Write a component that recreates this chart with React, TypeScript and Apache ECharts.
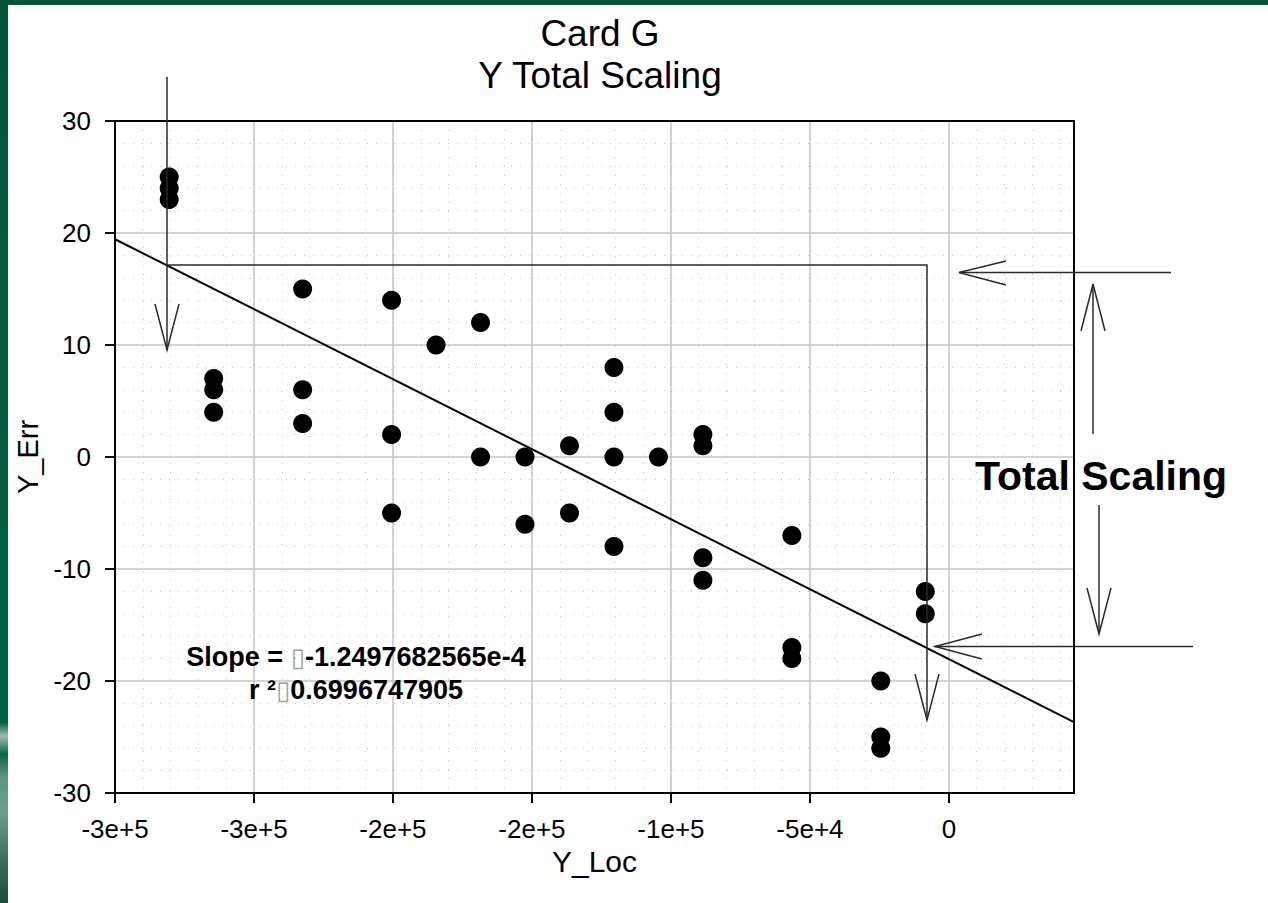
import React, { useEffect, useRef } from "react";
import * as echarts from "echarts";

// ---- data ----
const xLoc = [
  -280500, -280500, -280500,
  -264500, -264500, -264500,
  -232500, -232500, -232500,
  -200500, -200500, -200500,
  -184500,
  -168500, -168500,
  -152500, -152500,
  -136500, -136500,
  -120500, -120500, -120500, -120500,
  -104500,
  -88500, -88500, -88500, -88500,
  -56500, -56500, -56500,
  -24500, -24500, -24500,
  -8500, -8500,
];
const yErr = [
  25, 24, 23,
  7, 6, 4,
  15, 6, 3,
  14, 2, -5,
  10,
  12, 0,
  0, -6,
  1, -5,
  8, 4, 0, -8,
  0,
  2, 1, -9, -11,
  -7, -17, -18,
  -20, -25, -26,
  -12, -14,
];

const xTickValues = [-300000, -250000, -200000, -150000, -100000, -50000, 0];
const xTickLabels = ["-3e+5", "-3e+5", "-2e+5", "-2e+5", "-1e+5", "-5e+4", "0"];
const yTickValues = [-30, -20, -10, 0, 10, 20, 30];

const X_MIN = -300000;
const X_MAX = 45000;
const Y_MIN = -30;
const Y_MAX = 30;

const regSlope = -1.2497682565e-4;
const regIntercept = -18.05;
const slopeText = "-1.2497682565e-4";
const r2Text = "0.6996747905";

const FONT = '"Liberation Sans", Arial, sans-serif';
const ANN = "#2a2a2a";

export default function App() {
  const ref = useRef<HTMLDivElement>(null);

  useEffect(() => {
    document.body.style.margin = "0";
    document.body.style.overflow = "hidden";
    const chart = echarts.init(ref.current!, null, { renderer: "svg" });

    const points = xLoc.map((x, i) => [x, yErr[i]]);
    const regLine = [
      [X_MIN, regIntercept + regSlope * X_MIN],
      [X_MAX, regIntercept + regSlope * X_MAX],
    ];

    const lineStyle = { stroke: ANN, lineWidth: 1.5 };
    const seg = (x1: number, y1: number, x2: number, y2: number) => ({
      type: "line",
      shape: { x1, y1, x2, y2 },
      style: lineStyle,
      silent: true,
      z: 20,
    });
    const head = (pts: number[][]) => ({
      type: "polyline",
      shape: { points: pts },
      style: { ...lineStyle, fill: "none" },
      silent: true,
      z: 20,
    });
    const rich = {
      a: { font: `bold 27px ${FONT}`, fill: "#000" },
      b: { font: `26px "DejaVu Sans", sans-serif`, fill: "#a0a0a0" },
    };

    const option: any = {
      animation: false,
      backgroundColor: "#ffffff",
      textStyle: { fontFamily: FONT },
      title: {
        text: "Card G\nY Total Scaling",
        left: 595,
        top: 7,
        textAlign: "center",
        textStyle: {
          fontFamily: FONT,
          fontSize: 37,
          fontWeight: "normal",
          color: "#000",
          lineHeight: 42,
        },
      },
      grid: {
        left: 115,
        top: 121,
        width: 959,
        height: 672,
        show: true,
        borderColor: "#000",
        borderWidth: 0,
        backgroundColor: "#fff",
      },
      xAxis: [
        {
          type: "value",
          min: X_MIN,
          max: X_MAX,
          interval: 50000,
          position: "bottom",
          name: "Y_Loc",
          nameLocation: "middle",
          nameGap: 48,
          nameTextStyle: { fontFamily: FONT, fontSize: 30, color: "#000" },
          axisLine: { show: true, onZero: false, lineStyle: { color: "#000", width: 2 } },
          axisTick: {
            show: true,
            inside: false,
            length: 10,
            customValues: xTickValues,
            lineStyle: { color: "#000", width: 2 },
          },
          axisLabel: {
            customValues: xTickValues,
            fontFamily: FONT,
            fontSize: 26,
            color: "#000",
            margin: 23,
            formatter: (v: number) => {
              const i = xTickValues.indexOf(v);
              return i >= 0 ? xTickLabels[i] : "";
            },
          },
          splitLine: { show: true, lineStyle: { color: "#c4c4c4", width: 1.5 } },
          z: 1,
        },
        {
          type: "value",
          min: X_MIN,
          max: X_MAX,
          interval: 10000,
          position: "bottom",
          axisLine: { show: false },
          axisTick: { show: false },
          axisLabel: { show: false },
          splitLine: { show: true, lineStyle: { color: "#c0c0c0", width: 1, type: [1, 8] } },
          z: 0,
        },
      ],
      yAxis: {
        type: "value",
        min: Y_MIN,
        max: Y_MAX,
        interval: 10,
        name: "Y_Err",
        nameLocation: "middle",
        nameGap: 70,
        nameTextStyle: { fontFamily: FONT, fontSize: 29, color: "#000" },
        axisLine: { show: true, onZero: false, lineStyle: { color: "#000", width: 2 } },
        axisTick: {
          show: true,
          inside: false,
          length: 10,
          lineStyle: { color: "#000", width: 2 },
        },
        axisLabel: {
          fontFamily: FONT,
          fontSize: 26,
          color: "#000",
          margin: 24,
          formatter: (v: number) => (yTickValues.indexOf(v) >= 0 ? String(v) : ""),
        },
        splitLine: { show: true, lineStyle: { color: "#c4c4c4", width: 1.5 } },
        minorTick: { show: false, splitNumber: 5 },
        minorSplitLine: { show: true, lineStyle: { color: "#c0c0c0", width: 1, type: [1, 8] } },
      },
      series: [
        {
          type: "line",
          data: regLine,
          xAxisIndex: 0,
          showSymbol: false,
          symbol: "none",
          lineStyle: { color: "#000", width: 2 },
          clip: true,
          z: 3,
        },
        {
          type: "scatter",
          data: points,
          xAxisIndex: 0,
          symbol: "circle",
          symbolSize: 19,
          itemStyle: { color: "#000", opacity: 1 },
          z: 4,
        },
      ],
      graphic: [
        // green slide border
        {
          type: "rect",
          shape: { x: 0, y: 0, width: 1268, height: 5 },
          style: { fill: "#03523a" },
          silent: true,
        },
        {
          type: "rect",
          shape: { x: 0, y: 0, width: 8, height: 903 },
          style: {
            fill: new echarts.graphic.LinearGradient(0, 0, 0, 1, [
              { offset: 0, color: "#03523a" },
              { offset: 0.45, color: "#065e40" },
              { offset: 0.8, color: "#06613f" },
              { offset: 0.815, color: "#9cbdb2" },
              { offset: 0.835, color: "#0a6644" },
              { offset: 0.86, color: "#5f9483" },
              { offset: 0.9, color: "#6c9e8e" },
              { offset: 0.95, color: "#3d705f" },
              { offset: 1, color: "#1d4a3a" },
            ]),
          },
          silent: true,
        },
        // plot frame
        {
          type: "rect",
          shape: { x: 115, y: 121, width: 959, height: 672 },
          style: { fill: "none", stroke: "#000", lineWidth: 2 },
          silent: true,
          z: 15,
        },
        // annotations
        seg(167, 77, 167, 350),
        head([[155, 304], [167, 350], [179, 304]]),
        {
          type: "polyline",
          shape: { points: [[167, 265], [927, 265], [927, 720]] },
          style: { ...lineStyle, fill: "none" },
          silent: true,
          z: 20,
        },
        head([[915, 674], [927, 720], [939, 674]]),
        seg(1171, 272.5, 959, 272.5),
        head([[1006, 261], [959, 272.5], [1006, 285]]),
        seg(1093, 434, 1093, 284),
        head([[1081, 331], [1093, 284], [1105, 331]]),
        seg(1099, 505, 1099, 634),
        head([[1087, 588], [1099, 634], [1111, 588]]),
        seg(1193, 646.5, 935, 646.5),
        head([[982, 634], [935, 646.5], [982, 659]]),
        {
          type: "text",
          x: 1101,
          y: 476,
          style: {
            text: "Total Scaling",
            font: `bold 41px ${FONT}`,
            fill: "#000",
            align: "center",
            verticalAlign: "middle",
          },
          silent: true,
          z: 25,
        },
        {
          type: "text",
          x: 356,
          y: 657,
          style: {
            text: `{a|Slope = }{b|\u25AF}{a|${slopeText}}`,
            align: "center",
            verticalAlign: "middle",
            rich,
          },
          silent: true,
          z: 25,
        },
        {
          type: "text",
          x: 356,
          y: 690,
          style: {
            text: `{a|r \u00B2}{b|\u25AF}{a|${r2Text}}`,
            align: "center",
            verticalAlign: "middle",
            rich,
          },
          silent: true,
          z: 25,
        },
      ],
    };

    chart.setOption(option);
    return () => chart.dispose();
  }, []);

  return <div ref={ref} style={{ width: 1268, height: 903 }} />;
}
